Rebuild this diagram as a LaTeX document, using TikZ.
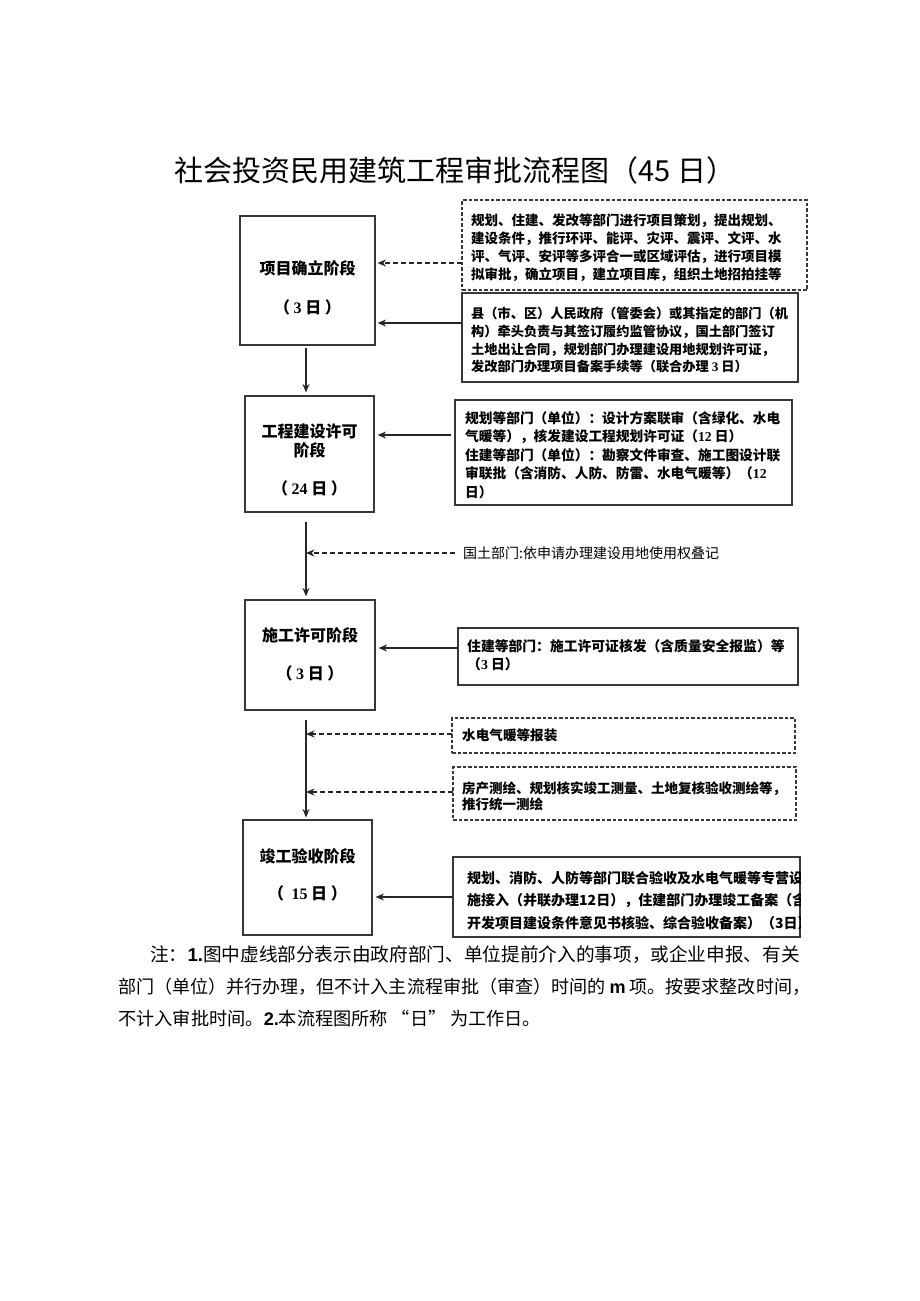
\documentclass[tikz,border=0pt]{standalone}
\usepackage{fontspec}
\setmainfont{Noto Sans CJK SC}
\newfontfamily\numfont{Liberation Serif}
\newfontfamily\arialfont{Liberation Sans}
\usetikzlibrary{arrows.meta}
\begin{document}
\begin{tikzpicture}[x=1pt,y=-1pt,
  boxline/.style={draw=black!78, line width=1.1pt, inner sep=0pt},
  stage/.style={boxline},
  side/.style={boxline},
  sidedash/.style={boxline, dash pattern=on 3.5pt off 2pt},
  arr/.style={-{Stealth[length=8.5pt,width=7pt]}, line width=1.1pt, draw=black!85},
  darr/.style={arr, dash pattern=on 5pt off 3pt},
  stagetext/.style={inner sep=0pt, font=\bfseries\fontsize{16}{18}\selectfont, align=center},
  sidetext/.style={anchor=north west, align=left, inner sep=0pt, font=\bfseries\fontsize{13.6}{18}\selectfont},
  notetext/.style={anchor=west, inner sep=0pt, font=\fontsize{18.2}{22}\selectfont}
]
\fill[white] (0,0) rectangle (920,1301);
\useasboundingbox (0,0) rectangle (920,1301);

% title
\node[inner sep=0pt, font=\fontsize{29}{32}\selectfont] (title) at (455,170) {社会投资民用建筑工程审批流程图（45 日）};

% stage boxes
\node[stage, minimum width=135pt, minimum height=129pt] (b1) at (307.5,280.5) {};
\node[stage, minimum width=129pt, minimum height=116pt] (b2) at (309.5,454) {};
\node[stage, minimum width=130pt, minimum height=110pt] (b3) at (310,655) {};
\node[stage, minimum width=129pt, minimum height=115pt] (b4) at (307.5,877.5) {};

\node[stagetext] (t1a) at (307.5,268) {项目确立阶段};
\node[stagetext] (t1b) at (307.5,307) {（ {\numfont 3} 日 ）};
\node[stagetext] (t2a) at (309.5,431) {工程建设许可};
\node[stagetext] (t2b) at (309.5,450) {阶段};
\node[stagetext] (t2c) at (309.5,488) {（ {\numfont 24} 日 ）};
\node[stagetext] (t3a) at (310,635) {施工许可阶段};
\node[stagetext] (t3b) at (310,673) {（ {\numfont 3} 日 ）};
\node[stagetext] (t4a) at (307.5,856) {竣工验收阶段};
\node[stagetext] (t4b) at (307.5,893) {（ \ {\numfont 15} 日 ）};

% side boxes
\node[sidedash, minimum width=345pt, minimum height=90pt] (d1) at (634.5,245) {};
\node[side, minimum width=336pt, minimum height=89pt] (s1) at (630,337.5) {};
\node[side, minimum width=337pt, minimum height=105pt] (s2) at (623.5,452.5) {};
\node[side, minimum width=340pt, minimum height=57pt] (s3) at (628,656.5) {};
\node[sidedash, minimum width=343pt, minimum height=35pt] (d2) at (623.5,735.5) {};
\node[sidedash, minimum width=343pt, minimum height=53pt] (d3) at (624.5,793.5) {};
\node[side, minimum width=347pt, minimum height=80pt] (s4) at (626.5,897) {};

\node[sidetext, font=\bfseries\fontsize{13.5}{18}\selectfont] (d1t) at (471,214) {规划、住建、发改等部门进行项目策划，提出规划、\\建设条件，推行环评、能评、灾评、震评、文评、水\\评、气评、安评等多评合一或区域评估，进行项目模\\拟审批，确立项目，建立项目库，组织土地招拍挂等};
\node[sidetext, font=\bfseries\fontsize{13.2}{17.7}\selectfont] (s1t) at (471,307) {县（市、区）人民政府（管委会）或其指定的部门（机\\构）牵头负责与其签订履约监管协议，国土部门签订\\土地出让合同，规划部门办理建设用地规划许可证，\\发改部门办理项目备案手续等（联合办理 {\numfont 3} 日）};
\node[sidetext, font=\bfseries\fontsize{13.7}{18.5}\selectfont] (s2t) at (465,411) {规划等部门（单位）：设计方案联审（含绿化、水电\\气暖等），核发建设工程规划许可证（{\numfont 12} 日）\\住建等部门（单位）：勘察文件审查、施工图设计联\\审联批（含消防、人防、防雷、水电气暖等）（{\numfont 12}\\日）};
\node[sidetext, font=\bfseries\fontsize{13.8}{18}\selectfont] (s3t) at (467,639) {住建等部门：施工许可证核发（含质量安全报监）等\\（{\numfont 3} 日）};
\node[sidetext] (d2t) at (462,729) {水电气暖等报装};
\node[sidetext, font=\bfseries\fontsize{13.5}{16}\selectfont] (d3t) at (462,782) {房产测绘、规划核实竣工测量、土地复核验收测绘等，\\推行统一测绘};
\begin{scope}
\clip (s4.north west) rectangle (s4.south east);
\node[sidetext, font=\bfseries\fontsize{14}{22.5}\selectfont] (s4t) at (467,871) {规划、消防、人防等部门联合验收及水电气暖等专营设\\施接入（并联办理12日），住建部门办理竣工备案（含\\开发项目建设条件意见书核验、综合验收备案）（3日）};
\end{scope}

% free label
\node[anchor=west, inner sep=0pt, font=\fontsize{14}{16}\selectfont] (gt) at (463,553) {国土部门:依申请办理建设用地使用权叠记};

% main flow
\coordinate (v1s) at (306,348);
\coordinate (v2s) at (306,522);
\coordinate (v3s) at (306,720);
\draw[arr] (v1s) -- ([yshift=3pt]v1s |- b2.north);
\draw[arr] (v2s) -- ([yshift=3pt]v2s |- b3.north);
\draw[arr] (v3s) -- ([yshift=2pt]v3s |- b4.north);

% side connectors
\coordinate (c1) at (462,263);
\coordinate (c2) at (462,323);
\coordinate (c3) at (451,435);
\coordinate (c4) at (455,553);
\coordinate (c5) at (458,648);
\coordinate (c6) at (452,734);
\coordinate (c7) at (453,792);
\coordinate (c8) at (453,897);
\draw[darr] (c1) -- ([xshift=2pt]c1 -| b1.east);
\draw[arr] (c2) -- ([xshift=2pt]c2 -| b1.east);
\draw[arr] (c3) -- ([xshift=3pt]c3 -| b2.east);
\draw[darr] (c4) -- (c4 -| v2s);
\draw[arr] (c5) -- ([xshift=3pt]c5 -| b3.east);
\draw[darr] (c6) -- (c6 -| v3s);
\draw[darr] (c7) -- (c7 -| v3s);
\draw[arr] (c8) -- ([xshift=3pt]c8 -| b4.east);

% note
\node[notetext, font=\fontsize{18.65}{22}\selectfont] (n1) at (150,955) {注：{\arialfont\bfseries 1.}图中虚线部分表示由政府部门、单位提前介入的事项，或企业申报、有关};
\node[notetext, font=\fontsize{18.05}{22}\selectfont] (n2) at (118,987) {部门（单位）并行办理，但不计入主流程审批（审查）时间的 {\arialfont\bfseries m} 项。按要求整改时间，};
\node[notetext] (n3) at (118,1019) {不计入审批时间。{\arialfont\bfseries 2.}本流程图所称\kern0.2em“日”\kern0.2em为工作日。};
\end{tikzpicture}
\end{document}
